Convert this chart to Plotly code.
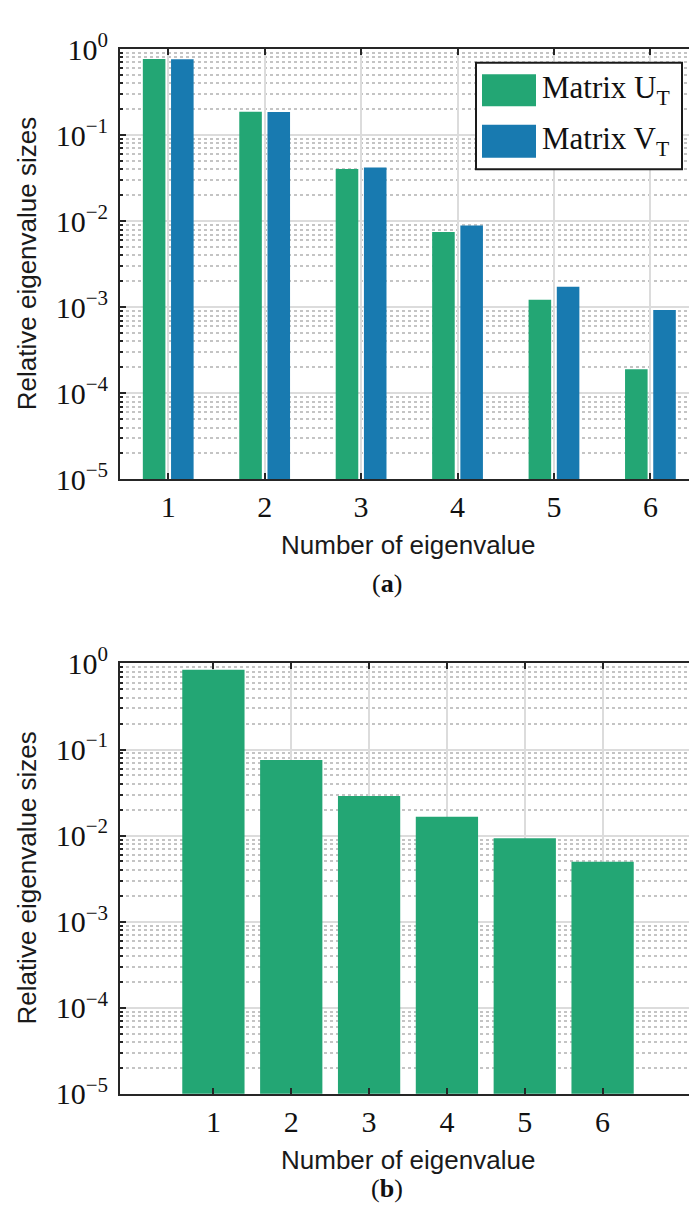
import plotly.graph_objects as go

# Relative eigenvalue sizes
eig_numbers = [1, 2, 3, 4, 5, 6]
matrix_u = [0.765, 0.187, 0.0405, 0.0075, 0.00122, 0.00019]
matrix_v = [0.762, 0.186, 0.042, 0.0089, 0.00173, 0.00093]
combined = [0.845, 0.0754, 0.0289, 0.0166, 0.0093, 0.00497]

decade_vals = [1e-5, 1e-4, 1e-3, 1e-2, 1e-1, 1e0]
decade_text = ["10<sup>\u22125</sup>", "10<sup>\u22124</sup>", "10<sup>\u22123</sup>",
               "10<sup>\u22122</sup>", "10<sup>\u22121</sup>", "10<sup>0</sup>"]

GREEN = "#23a674"
BLUE = "#187ab0"
AXIS = "#262626"
W, H = 689, 1227

fig = go.Figure()
fig.add_trace(go.Bar(x=eig_numbers, y=matrix_u, marker=dict(color=GREEN, line=dict(width=0)),
                     xaxis="x", yaxis="y", showlegend=False))
fig.add_trace(go.Bar(x=eig_numbers, y=matrix_v, marker=dict(color=BLUE, line=dict(width=0)),
                     xaxis="x", yaxis="y", showlegend=False))
fig.add_trace(go.Bar(x=eig_numbers, y=combined, width=0.8, marker=dict(color=GREEN, line=dict(width=0)),
                     xaxis="x2", yaxis="y2", showlegend=False))

left = 120 / W
dom_a = [1 - 473 / H, 1 - 29 / H]
dom_b = [1 - 1107 / H, 1 - 663 / H]

tickfont = dict(family="Liberation Serif", size=30, color="#111111")

def xaxis(rng, anchor, dom):
    return dict(range=rng, domain=[left, 1], anchor=anchor,
                tickvals=eig_numbers, ticktext=[str(v) for v in eig_numbers],
                tickfont=tickfont, ticks="inside", ticklen=6, tickwidth=2, tickcolor=AXIS,
                showline=True, linecolor=AXIS, linewidth=2, mirror="ticks",
                showgrid=True, gridcolor="#dcdcdc", gridwidth=1.5, zeroline=False)

def yaxis(anchor, dom):
    return dict(type="log", range=[-5, 0], domain=dom, anchor=anchor,
                tickvals=decade_vals, ticktext=decade_text, tickfont=tickfont,
                ticks="inside", ticklen=6, tickwidth=2, tickcolor=AXIS,
                showline=True, linecolor=AXIS, linewidth=2, mirror=False,
                showgrid=True, gridcolor="#dcdcdc", gridwidth=1.5, zeroline=False,
                ticklabelstandoff=4,
                minor=dict(dtick="D1", ticks="inside", ticklen=3, tickwidth=1.5, tickcolor=AXIS,
                           showgrid=True, gridcolor="#c4c4c4", gridwidth=1.5, griddash="dot"))

fig.update_layout(
    width=W, height=H, margin=dict(l=0, r=0, t=0, b=0),
    paper_bgcolor="white", plot_bgcolor="white",
    barmode="group", bargap=0.415, bargroupgap=0.2,
    xaxis=xaxis([0.5, 6.4], "y", dom_a),
    yaxis=yaxis("x", dom_a),
    xaxis2=xaxis([-0.2, 7.11], "y2", dom_b),
    yaxis2=yaxis("x2", dom_b),
)

def px(xp, yp):
    return xp / W, 1 - yp / H

title_font = dict(family="Liberation Sans", size=26, color="#1a1a1a")
serif = dict(family="Liberation Serif", size=26, color="#111111")
annotations = []
for top, bottom, cap, cap_gap in [(29, 473, "(<b>a</b>)", 107), (663, 1107, "(<b>b</b>)", 98)]:
    cx, cy = px(408, bottom + 68)
    annotations.append(dict(text="Number of eigenvalue", x=cx, y=cy, xref="paper", yref="paper",
                            showarrow=False, font=title_font, xanchor="center", yanchor="middle"))
    cx, cy = px(27, (top + bottom) / 2)
    annotations.append(dict(text="Relative eigenvalue sizes", x=cx, y=cy, xref="paper", yref="paper",
                            showarrow=False, font=title_font, textangle=-90,
                            xanchor="center", yanchor="middle"))
    cx, cy = px(387, bottom + cap_gap)
    annotations.append(dict(text=cap, x=cx, y=cy, xref="paper", yref="paper",
                            showarrow=False, font=serif, xanchor="center", yanchor="middle"))

# Legend box for panel (a)
shapes = []
x0, y0 = px(476, 43)
x1, y1 = px(682, 153)
shapes.append(dict(type="rect", xref="paper", yref="paper", x0=x0, y0=y1, x1=x1, y1=y0,
                   line=dict(color="#1a1a1a", width=2), fillcolor="white", layer="above"))
legend_items = [("Matrix U<sub>T</sub>", GREEN, 55, 88), ("Matrix V<sub>T</sub>", BLUE, 107, 141)]
for label, color, ty, by in legend_items:
    a0, b0 = px(482, ty)
    a1, b1 = px(536, by)
    shapes.append(dict(type="rect", xref="paper", yref="paper", x0=a0, y0=b1, x1=a1, y1=b0,
                       line=dict(width=0), fillcolor=color, layer="above"))
    tx, tyc = px(540, (ty + by) / 2)
    annotations.append(dict(text=label, x=tx, y=tyc, xref="paper", yref="paper", showarrow=False,
                            font=dict(family="Liberation Serif", size=31, color="#111111"),
                            xanchor="left", yanchor="middle"))

fig.update_layout(shapes=shapes, annotations=annotations)
fig.write_html("out.html")
